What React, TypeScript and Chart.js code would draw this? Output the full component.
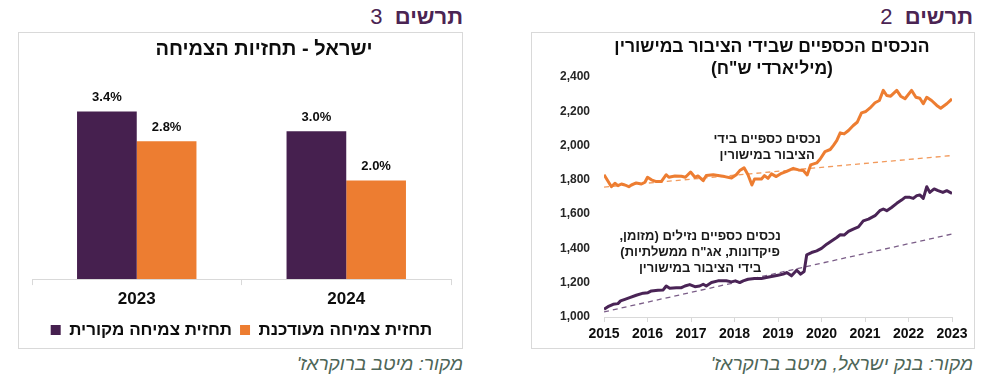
import React, { useEffect, useRef } from 'react';
import { Chart, registerables } from 'chart.js';

Chart.register(...registerables);

const FONT = "'Liberation Sans', Arial, sans-serif";
const PURPLE = '#46204F';
const ORANGE = '#ED7D31';
const TEXT = '#0d0d0d';
const AXIS_GRAY = '#D9D9D9';

// ---------- Chart 3: growth forecasts ----------
const growthYears = ['2023', '2024'];
const originalForecast = [3.4, 3.0];
const updatedForecast = [2.8, 2.0];
const originalLabel = 'תחזית צמיחה מקורית';
const updatedLabel = 'תחזית צמיחה מעודכנת';

// ---------- Chart 2: public financial assets (NIS bn) ----------
const totalDates = [
  2015.0, 2015.17, 2015.25, 2015.32, 2015.4, 2015.48, 2015.57, 2015.63, 2015.74, 2015.86, 2015.94,
  2016.0, 2016.09, 2016.2, 2016.32, 2016.43, 2016.49, 2016.63, 2016.78, 2016.87, 2016.99,
  2017.09, 2017.16, 2017.28, 2017.35, 2017.51, 2017.62, 2017.77, 2017.93,
  2018.04, 2018.12, 2018.22, 2018.31, 2018.4, 2018.46, 2018.62, 2018.69, 2018.77, 2018.85, 2018.96,
  2019.08, 2019.2, 2019.35, 2019.47, 2019.58, 2019.67, 2019.75, 2019.89, 2019.97,
  2020.08, 2020.2, 2020.27, 2020.35, 2020.43, 2020.52, 2020.62, 2020.73, 2020.82, 2020.92,
  2021.02, 2021.11, 2021.23, 2021.33, 2021.42, 2021.5, 2021.59, 2021.73, 2021.82, 2021.92,
  2022.07, 2022.17, 2022.26, 2022.34, 2022.42, 2022.53, 2022.65, 2022.74, 2022.88, 2023.0,
];
const totalValues = [
  1830, 1760, 1780, 1766, 1776, 1770, 1760, 1770, 1782, 1776, 1786,
  1815, 1800, 1790, 1791, 1830, 1815, 1823, 1821, 1815, 1846,
  1815, 1823, 1795, 1825, 1830, 1825, 1819, 1811,
  1830, 1854, 1870, 1830, 1770, 1805, 1805, 1825, 1809, 1835, 1819,
  1838, 1850, 1867, 1858, 1854, 1829, 1887, 1899, 1922,
  1965, 1977, 2000, 2029, 2074, 2068, 2088, 2117, 2136, 2191,
  2199, 2218, 2250, 2263, 2322, 2292, 2288, 2322, 2288, 2273,
  2322, 2282, 2276, 2244, 2282, 2263, 2234, 2218, 2244, 2272,
];
const liquidDates = [
  2015.0, 2015.09, 2015.21, 2015.32, 2015.38, 2015.48, 2015.59, 2015.74, 2015.9,
  2016.01, 2016.09, 2016.24, 2016.36, 2016.43, 2016.51, 2016.66, 2016.78, 2016.86, 2016.97,
  2017.09, 2017.2, 2017.28, 2017.35, 2017.47, 2017.62, 2017.81, 2017.93,
  2018.02, 2018.12, 2018.2, 2018.31, 2018.46, 2018.62, 2018.73, 2018.85,
  2019.0, 2019.12, 2019.2, 2019.31, 2019.43, 2019.52, 2019.6, 2019.66, 2019.77, 2019.89,
  2020.0, 2020.12, 2020.23, 2020.35, 2020.43, 2020.52, 2020.62, 2020.73, 2020.85, 2020.96,
  2021.08, 2021.23, 2021.34, 2021.42, 2021.5, 2021.61, 2021.73, 2021.84, 2021.92,
  2022.03, 2022.11, 2022.19, 2022.26, 2022.34, 2022.42, 2022.49, 2022.59, 2022.68, 2022.79, 2022.88, 2023.0,
];
const liquidValues = [
  1045, 1060, 1074, 1078, 1094, 1103, 1113, 1127, 1139,
  1142, 1152, 1156, 1158, 1181, 1168, 1171, 1171, 1181, 1189,
  1177, 1181, 1191, 1181, 1201, 1211, 1211, 1205,
  1211, 1201, 1211, 1220, 1224, 1224, 1230, 1236,
  1244, 1250, 1259, 1240, 1273, 1250, 1265, 1363, 1376, 1386,
  1400, 1425, 1444, 1464, 1480, 1478, 1499, 1513, 1526, 1561,
  1571, 1591, 1620, 1630, 1620, 1639, 1663, 1682, 1698,
  1698, 1692, 1708, 1712, 1692, 1760, 1727, 1747, 1737, 1727, 1737, 1721,
];
const totalTrendDates = [2015, 2023];
const totalTrendValues = [1758, 1942];
const liquidTrendDates = [2015, 2023];
const liquidTrendValues = [1030, 1484];

const totalNoteLines = ['נכסים כספיים בידי', 'הציבור במישורין'];
const totalNoteX = 2018.75;
const totalNoteY = 1988;
const liquidNoteLines = ['נכסים כספיים נזילים (מזומן,', 'פיקדונות, אג"ח ממשלתיות)', 'בידי הציבור במישורין'];
const liquidNoteX = 2017.21;
const liquidNoteY = 1374;

const toPoints = (xs: number[], ys: number[]) => xs.map((x, i) => ({ x, y: ys[i] }));

const barValueLabels = {
  id: 'barValueLabels',
  afterDatasetsDraw(chart: any) {
    const { ctx } = chart;
    ctx.save();
    ctx.font = `bold 13px ${FONT}`;
    ctx.fillStyle = TEXT;
    ctx.textAlign = 'center';
    ctx.textBaseline = 'middle';
    chart.data.datasets.forEach((ds: any, i: number) => {
      const meta = chart.getDatasetMeta(i);
      meta.data.forEach((bar: any, j: number) => {
        const v = ds.data[j] as number;
        ctx.fillText(v.toFixed(1) + '%', bar.x, bar.y - 14);
      });
    });
    ctx.restore();
  },
};

const notesPlugin = {
  id: 'lineNotes',
  afterDatasetsDraw(chart: any) {
    const { ctx } = chart;
    const xs = chart.scales.x;
    const ys = chart.scales.y;
    const notes = [
      { lines: totalNoteLines, x: totalNoteX, y: totalNoteY },
      { lines: liquidNoteLines, x: liquidNoteX, y: liquidNoteY },
    ];
    ctx.save();
    ctx.font = `bold 13px ${FONT}`;
    ctx.fillStyle = '#1a1a1a';
    ctx.textAlign = 'center';
    ctx.textBaseline = 'middle';
    (ctx as any).direction = 'rtl';
    const lh = 16;
    notes.forEach((n) => {
      const cx = xs.getPixelForValue(n.x);
      const cy = ys.getPixelForValue(n.y);
      const start = cy - ((n.lines.length - 1) * lh) / 2;
      n.lines.forEach((l, k) => ctx.fillText(l, cx, start + k * lh));
    });
    ctx.restore();
  },
};

function GrowthChart() {
  const ref = useRef<HTMLCanvasElement>(null);
  useEffect(() => {
    const chart = new Chart(ref.current!, {
      type: 'bar',
      data: {
        labels: growthYears,
        datasets: [
          { label: originalLabel, data: originalForecast, backgroundColor: PURPLE, categoryPercentage: 0.57, barPercentage: 1 },
          { label: updatedLabel, data: updatedForecast, backgroundColor: ORANGE, categoryPercentage: 0.57, barPercentage: 1 },
        ],
      },
      options: {
        responsive: false,
        animation: false,
        layout: { padding: { top: 50, left: 14, right: 12, bottom: 0.5 } },
        plugins: {
          title: { display: false },
          tooltip: { enabled: false },
          legend: {
            display: true,
            position: 'bottom',
            labels: {
              font: { family: FONT, size: 17, weight: 'bold' },
              color: TEXT,
              boxWidth: 10,
              boxHeight: 10,
              padding: 8,
            },
          },
        },
        scales: {
          x: {
            grid: { display: true, drawOnChartArea: false, tickLength: 6, color: AXIS_GRAY, offset: true },
            border: { display: true, color: AXIS_GRAY },
            ticks: { font: { family: FONT, size: 17, weight: 'bold' }, color: TEXT, padding: 4 },
          },
          y: { display: false, min: 0, max: 4 },
        },
      },
      plugins: [barValueLabels],
    } as any);
    return () => chart.destroy();
  }, []);
  return (
    <canvas
      ref={ref}
      width={445}
      height={317}
      style={{ position: 'absolute', left: 18, top: 32, width: 445, height: 317, display: 'block' }}
    />
  );
}

function AssetsChart() {
  const ref = useRef<HTMLCanvasElement>(null);
  useEffect(() => {
    const chart = new Chart(ref.current!, {
      type: 'line',
      data: {
        datasets: [
          { label: 'total', data: toPoints(totalDates, totalValues), borderColor: ORANGE, borderWidth: 3, pointRadius: 0, tension: 0, borderJoinStyle: 'round' },
          { label: 'liquid', data: toPoints(liquidDates, liquidValues), borderColor: '#4A2456', borderWidth: 3, pointRadius: 0, tension: 0, borderJoinStyle: 'round' },
          { label: 'total trend', data: toPoints(totalTrendDates, totalTrendValues), borderColor: '#F29A5C', borderWidth: 1.3, borderDash: [5, 4], pointRadius: 0 },
          { label: 'liquid trend', data: toPoints(liquidTrendDates, liquidTrendValues), borderColor: '#7B5E88', borderWidth: 1.3, borderDash: [5, 4], pointRadius: 0 },
        ],
      },
      options: {
        responsive: false,
        animation: false,
        layout: { padding: { top: 45, left: 15, right: 23, bottom: 2.2 } },
        plugins: {
          title: { display: false },
          legend: { display: false },
          tooltip: { enabled: false },
        },
        scales: {
          x: {
            type: 'linear',
            min: 2015,
            max: 2023,
            grid: { display: true, drawOnChartArea: false, tickLength: 5, color: AXIS_GRAY },
            border: { display: true, color: AXIS_GRAY },
            ticks: {
              stepSize: 1,
              font: { family: FONT, size: 14, weight: 'bold' },
              color: TEXT,
              padding: 4,
              callback: (v: any) => String(v),
            },
          },
          y: {
            min: 1000,
            max: 2400,
            grid: { display: false, drawTicks: false },
            border: { display: false },
            ticks: {
              stepSize: 200,
              font: { family: FONT, size: 12, weight: 'bold' },
              color: '#262626',
              padding: 14,
              callback: (v: any) => Number(v).toLocaleString('en-US'),
            },
          },
        },
      },
      plugins: [notesPlugin],
    } as any);
    return () => chart.destroy();
  }, []);
  return (
    <canvas
      ref={ref}
      width={444}
      height={317}
      style={{ position: 'absolute', left: 531, top: 32, width: 444, height: 317, display: 'block' }}
    />
  );
}

const headerStyle: React.CSSProperties = {
  position: 'absolute',
  top: 6,
  fontFamily: FONT,
  fontSize: 22,
  lineHeight: '22px',
  color: '#4B2453',
  whiteSpace: 'nowrap',
  direction: 'rtl',
};

const sourceStyle: React.CSSProperties = {
  position: 'absolute',
  top: 354,
  fontFamily: FONT,
  fontSize: 19,
  lineHeight: '19px',
  fontStyle: 'italic',
  color: '#4E6658',
  whiteSpace: 'nowrap',
  direction: 'rtl',
};

const frameStyle: React.CSSProperties = {
  position: 'absolute',
  top: 32,
  height: 317,
  boxSizing: 'border-box',
  border: `1px solid ${AXIS_GRAY}`,
  background: '#fff',
};

export default function App() {
  return (
    <div style={{ position: 'absolute', left: 0, top: 0, width: 986, height: 386, background: '#fff', overflow: 'hidden' }}>
      <div style={{ ...headerStyle, right: 986 - 463 }}>
        <b>תרשים</b>{'\u00A0\u00A0'}3
      </div>
      <div style={{ ...headerStyle, right: 986 - 973 }}>
        <b>תרשים</b>{'\u00A0\u00A0'}2
      </div>

      <div style={{ ...frameStyle, left: 18, width: 445 }} />
      <div style={{ ...frameStyle, left: 531, width: 444 }} />

      <GrowthChart />
      <AssetsChart />

      <div
        style={{
          position: 'absolute', left: 114, width: 300, top: 37, textAlign: 'center', direction: 'rtl',
          fontFamily: FONT, fontWeight: 'bold', fontSize: 20, lineHeight: '22px', color: TEXT, whiteSpace: 'nowrap',
        }}
      >
        ישראל - תחזיות הצמיחה
      </div>
      <div
        style={{
          position: 'absolute', left: 572, width: 400, top: 35, textAlign: 'center', direction: 'rtl',
          fontFamily: FONT, fontWeight: 'bold', fontSize: 17.5, lineHeight: '22px', color: TEXT, whiteSpace: 'nowrap',
        }}
      >
        <div>הנכסים הכספיים שבידי הציבור במישורין</div>
        <div>(מיליארדי ש"ח)</div>
      </div>

      <div style={{ ...sourceStyle, right: 986 - 463 }}>מקור: מיטב ברוקראז'</div>
      <div style={{ ...sourceStyle, right: 986 - 973 }}>מקור: בנק ישראל, מיטב ברוקראז'</div>
    </div>
  );
}
